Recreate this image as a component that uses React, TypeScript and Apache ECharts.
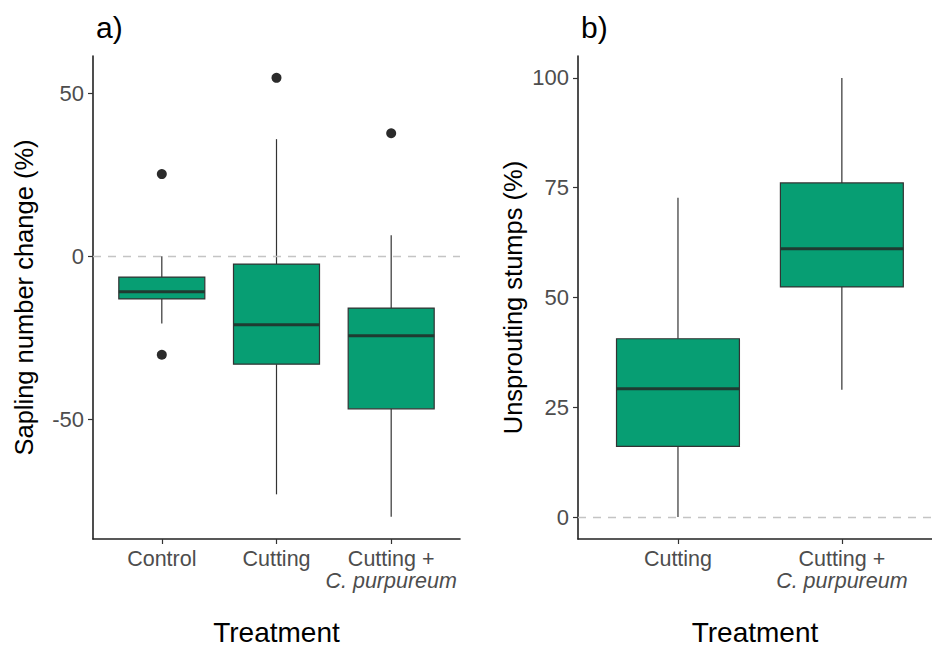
import React, { useEffect, useRef } from "react";
import * as echarts from "echarts";

// ---- Data ----
const leftCategories = ["Control", "Cutting", "Cutting +|C. purpureum"];
const leftLow = [-20.6, -73.0, -79.9];
const leftQ1 = [-13.1, -33.1, -46.8];
const leftMedian = [-10.9, -21.0, -24.4];
const leftQ3 = [-6.4, -2.4, -15.9];
const leftHigh = [0, 35.9, 6.4];
const leftOutliers: [number, number][] = [
  [0, 25.2],
  [0, -30.2],
  [1, 54.7],
  [2, 37.7],
];

const rightCategories = ["Cutting", "Cutting +|C. purpureum"];
const rightLow = [0, 29.0];
const rightQ1 = [16.1, 52.4];
const rightMedian = [29.2, 61.1];
const rightQ3 = [40.6, 76.1];
const rightHigh = [72.7, 100];
const rightOutliers: [number, number][] = [];

const leftYTicks = [-50, 0, 50];
const rightYTicks = [0, 25, 50, 75, 100];

const FONT = "'Liberation Sans', Arial, Helvetica, sans-serif";
const FILL = "#079E73";
const EDGE = "#333333";
const MEDIAN = "#1f3b31";

function boxData(low: number[], q1: number[], med: number[], q3: number[], high: number[]) {
  return low.map((_, i) => [i, low[i], q1[i], med[i], q3[i], high[i]]);
}

function renderBox(params: any, api: any) {
  const x = api.value(0);
  const w = api.size([1, 0])[0] * 0.75;
  const pLow = api.coord([x, api.value(1)]);
  const pQ1 = api.coord([x, api.value(2)]);
  const pMed = api.coord([x, api.value(3)]);
  const pQ3 = api.coord([x, api.value(4)]);
  const pHigh = api.coord([x, api.value(5)]);
  const cx = pMed[0];
  return {
    type: "group",
    children: [
      {
        type: "line",
        shape: { x1: cx, y1: pQ3[1], x2: cx, y2: pHigh[1] },
        style: { stroke: EDGE, lineWidth: 1.2 },
      },
      {
        type: "line",
        shape: { x1: cx, y1: pQ1[1], x2: cx, y2: pLow[1] },
        style: { stroke: EDGE, lineWidth: 1.2 },
      },
      {
        type: "rect",
        shape: { x: cx - w / 2, y: pQ3[1], width: w, height: pQ1[1] - pQ3[1] },
        style: { fill: FILL, stroke: EDGE, lineWidth: 1.2 },
      },
      {
        type: "line",
        shape: { x1: cx - w / 2, y1: pMed[1], x2: cx + w / 2, y2: pMed[1] },
        style: { stroke: MEDIAN, lineWidth: 3 },
      },
    ],
  };
}

function catLabel(cats: string[]) {
  return (val: number) => {
    const c = cats[Math.round(val)];
    if (c === undefined) return "";
    const parts = c.split("|");
    if (parts.length === 1) return `{n|${parts[0]}}`;
    return `{n|${parts[0]}}\n{i|${parts[1]}}`;
  };
}

const labelRich = {
  n: { fontFamily: FONT, fontSize: 21.5, color: "#4D4D4D", lineHeight: 22 },
  i: { fontFamily: FONT, fontSize: 21.5, color: "#4D4D4D", fontStyle: "italic", lineHeight: 22 },
};

function xAxisCfg(gridIndex: number, min: number, max: number, cats: string[]) {
  const vals = cats.map((_, i) => i);
  return {
    type: "value",
    gridIndex,
    min,
    max,
    name: "Treatment",
    nameLocation: "middle",
    nameGap: 79,
    nameTextStyle: { fontFamily: FONT, fontSize: 28, color: "#000" },
    splitLine: { show: false },
    axisLine: { show: true, onZero: false, lineStyle: { color: "#222", width: 1.6 } },
    axisTick: { show: true, length: 5, customValues: vals, lineStyle: { color: "#333", width: 1.2 } },
    axisLabel: {
      show: true,
      customValues: vals,
      margin: 9,
      formatter: catLabel(cats),
      rich: labelRich,
    },
  };
}

function yAxisCfg(gridIndex: number, min: number, max: number, ticks: number[], name: string, gap: number) {
  return {
    type: "value",
    gridIndex,
    min,
    max,
    name,
    nameLocation: "middle",
    nameGap: gap,
    nameTextStyle: { fontFamily: FONT, fontSize: 25.5, color: "#000" },
    splitLine: { show: false },
    axisLine: { show: true, onZero: false, lineStyle: { color: "#222", width: 1.6 } },
    axisTick: { show: true, length: 5, customValues: ticks, lineStyle: { color: "#333", width: 1.2 } },
    axisLabel: {
      show: true,
      customValues: ticks,
      margin: 9,
      fontFamily: FONT,
      fontSize: 22,
      color: "#4D4D4D",
    },
  };
}

const dashLine = {
  silent: true,
  symbol: "none",
  label: { show: false },
  lineStyle: { color: "#C4C4C4", type: [8, 7], width: 1.3 },
  data: [{ yAxis: 0 }],
};

export default function App() {
  const ref = useRef<HTMLDivElement>(null);
  useEffect(() => {
    document.body.style.margin = "0";
    const chart = echarts.init(ref.current!, null, { renderer: "svg" });
    chart.setOption({
      animation: false,
      backgroundColor: "#ffffff",
      title: [
        { text: "a)", left: 91, top: 7, textStyle: { fontFamily: FONT, fontSize: 30, fontWeight: "normal", color: "#000" } },
        { text: "b)", left: 576, top: 7, textStyle: { fontFamily: FONT, fontSize: 30, fontWeight: "normal", color: "#000" } },
      ],
      grid: [
        { left: 93, right: 472, top: 56, bottom: 112, outerBoundsMode: "none", containLabel: false },
        { left: 578, right: 0, top: 56, bottom: 112, outerBoundsMode: "none", containLabel: false },
      ],
      xAxis: [
        xAxisCfg(0, -0.6, 2.6, leftCategories),
        xAxisCfg(1, -0.61, 1.55, rightCategories),
      ],
      yAxis: [
        yAxisCfg(0, -86.7, 61.4, leftYTicks, "Sapling number change (%)", 56),
        yAxisCfg(1, -5, 105, rightYTicks, "Unsprouting stumps (%)", 52),
      ],
      series: [
        {
          type: "custom",
          xAxisIndex: 0,
          yAxisIndex: 0,
          renderItem: renderBox,
          data: boxData(leftLow, leftQ1, leftMedian, leftQ3, leftHigh),
          markLine: dashLine,
          z: 2,
        },
        {
          type: "scatter",
          xAxisIndex: 0,
          yAxisIndex: 0,
          symbol: "circle",
          symbolSize: 10,
          itemStyle: { color: "#2b2b2b", opacity: 1 },
          data: leftOutliers,
          z: 3,
        },
        {
          type: "custom",
          xAxisIndex: 1,
          yAxisIndex: 1,
          renderItem: renderBox,
          data: boxData(rightLow, rightQ1, rightMedian, rightQ3, rightHigh),
          markLine: dashLine,
          z: 2,
        },
        {
          type: "scatter",
          xAxisIndex: 1,
          yAxisIndex: 1,
          symbol: "circle",
          symbolSize: 10,
          itemStyle: { color: "#2b2b2b", opacity: 1 },
          data: rightOutliers,
          z: 3,
        },
      ],
    });
    return () => chart.dispose();
  }, []);
  return <div ref={ref} style={{ width: 932, height: 651 }} />;
}
